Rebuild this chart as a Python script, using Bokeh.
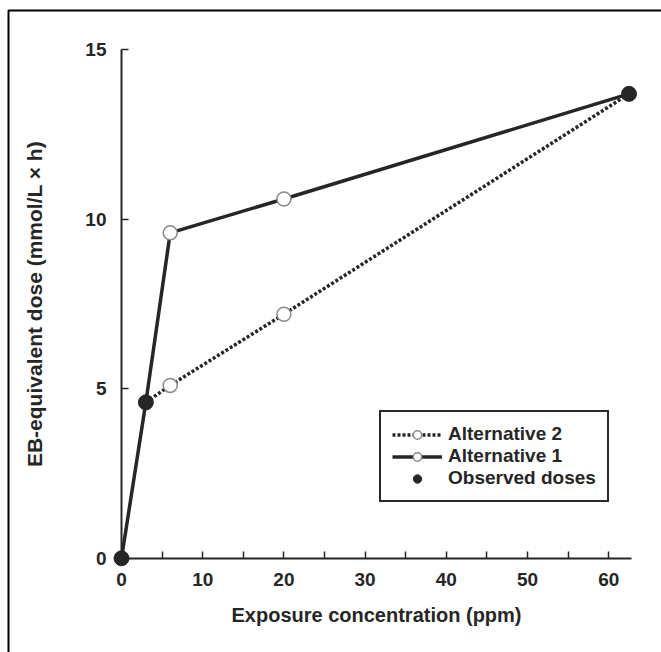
from bokeh.plotting import figure
from bokeh.models import (FixedTicker, Range1d, Legend, LegendItem, BoxAnnotation)
from bokeh.embed import file_html
from bokeh.resources import INLINE

# ---- data ----
obs_x = [0, 3, 62.5]
obs_y = [0, 4.6, 13.7]
alt1_x = [6, 20]
alt1_y = [9.6, 10.6]
alt2_x = [6, 20]
alt2_y = [5.1, 7.2]
x_ticks = [0, 10, 20, 30, 40, 50, 60]
x_minor = [5, 15, 25, 35, 45, 55]
y_ticks = [0, 5, 10, 15]
x_label = "Exposure concentration (ppm)"
y_label = "EB-equivalent dose (mmol/L \u00d7 h)"
labels = ["Alternative 2", "Alternative 1", "Observed doses"]

alt1_path_x = obs_x[:2] + alt1_x + obs_x[2:]
alt1_path_y = obs_y[:2] + alt1_y + obs_y[2:]
alt2_path_x = obs_x[1:2] + alt2_x + obs_x[2:]
alt2_path_y = obs_y[1:2] + alt2_y + obs_y[2:]

FONT = "Liberation Sans"
INK = "#262626"

W, H = 661, 652
XPX, YPX = 8.12, 33.9          # pixels per data unit
XS = -121 / XPX
YE = 15 + 49.3 / YPX
p = figure(frame_width=W, frame_height=H,
           min_border_left=0, min_border_right=0,
           min_border_top=0, min_border_bottom=0,
           x_range=Range1d(XS, XS + W / XPX),
           y_range=Range1d(YE - H / YPX, YE),
           output_backend="svg", toolbar_location=None)
p.outline_line_color = None
p.grid.visible = False
p.background_fill_color = "white"
p.border_fill_color = "white"

# axes
p.xaxis.fixed_location = 0
p.yaxis.fixed_location = 0
p.xaxis.bounds = (0, 62.8)
p.yaxis.bounds = (0, 15)
p.xaxis.ticker = FixedTicker(ticks=x_ticks, minor_ticks=x_minor)
p.yaxis.ticker = FixedTicker(ticks=y_ticks)
for ax in (p.xaxis[0], p.yaxis[0]):
    ax.axis_line_width = 2
    ax.axis_line_color = INK
    ax.major_tick_in = 7
    ax.major_tick_out = 0
    ax.major_tick_line_width = 1.5
    ax.major_tick_line_color = INK
    ax.minor_tick_in = 7
    ax.minor_tick_out = 0
    ax.minor_tick_line_width = 1.5
    ax.minor_tick_line_color = INK
    ax.major_label_text_font = FONT
    ax.major_label_text_font_style = "bold"
    ax.major_label_text_font_size = "19px"
    ax.major_label_text_color = INK
    ax.axis_label_text_font = FONT
    ax.axis_label_text_font_style = "bold"
    ax.axis_label_text_color = INK
p.yaxis.minor_tick_line_color = None
p.xaxis.axis_label = x_label
p.yaxis.axis_label = y_label
p.xaxis.axis_label_text_font_size = "20px"
p.yaxis.axis_label_text_font_size = "21px"
p.xaxis.major_label_standoff = 15
p.yaxis.major_label_standoff = 15
p.xaxis.axis_label_standoff = 14
p.yaxis.axis_label_standoff = 36

# lines
r_alt2_line = p.line(alt2_path_x, alt2_path_y, line_width=3.5, line_color=INK,
                     line_dash="3 2")
r_alt1_line = p.line(alt1_path_x, alt1_path_y, line_width=3.5, line_color=INK)
r_alt2_pts = p.scatter(alt2_x, alt2_y, size=14, fill_color="white",
                       line_color="#8a8a8a", line_width=1.5)
r_alt1_pts = p.scatter(alt1_x, alt1_y, size=14, fill_color="white",
                       line_color="#8a8a8a", line_width=1.5)
r_obs = p.scatter(obs_x, obs_y, size=15, fill_color=INK, line_color=INK)

legend = Legend(items=[
    LegendItem(label=labels[0], renderers=[r_alt2_line, r_alt2_pts]),
    LegendItem(label=labels[1], renderers=[r_alt1_line, r_alt1_pts]),
    LegendItem(label=labels[2], renderers=[r_obs]),
], location=(379, H - 502))
legend.label_text_font = FONT
legend.label_text_font_style = "bold"
legend.label_text_font_size = "19px"
legend.label_text_color = INK
legend.glyph_width = 50
legend.glyph_height = 21
legend.label_height = 21
legend.spacing = 0
legend.padding = 11
legend.margin = 0
legend.label_standoff = 6
legend.border_line_color = "#2a2a2a"
legend.border_line_width = 2
legend.border_line_alpha = 1.0
legend.background_fill_color = "white"
legend.background_fill_alpha = 1.0
p.add_layout(legend, "center")

# outer frame of the picture (only its left and top edges fall inside the window)
p.add_layout(BoxAnnotation(left=XS + 8 / XPX, right=XS + 760 / XPX,
                           top=YE - 10 / YPX, bottom=YE - 760 / YPX,
                           fill_alpha=0, line_color="black",
                           line_width=2, line_alpha=1.0))

open("out.html", "w").write(file_html(p, INLINE))
